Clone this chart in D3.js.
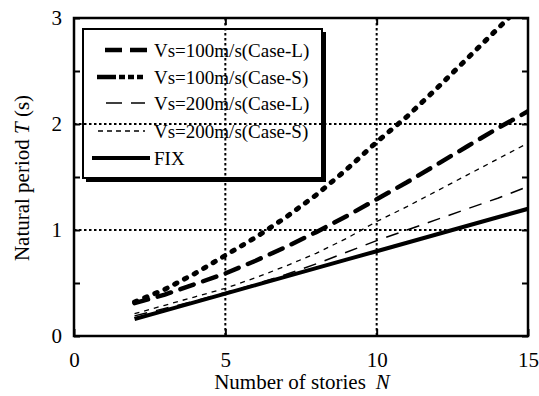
<!DOCTYPE html>
<html>
<head>
<meta charset="utf-8">
<script src="https://cdn.jsdelivr.net/npm/d3@7"></script>
<style>
  body { margin: 0; background: #fff; }
  svg { display: block; }
</style>
</head>
<body>
<div id="chart"></div>
<script>
// stories and natural periods
let stories = [2, 3, 4, 5, 6, 7, 8, 9, 10, 11, 12, 13, 14, 15];
let vs100L = [0.31, 0.39, 0.49, 0.59, 0.71, 0.84, 0.98, 1.13, 1.29, 1.45, 1.62, 1.79, 1.96, 2.12];
let vs100S = [0.32, 0.44, 0.59, 0.76, 0.93, 1.12, 1.33, 1.57, 1.83, 2.07, 2.34, 2.62, 2.90, 3.18];
let vs200L = [0.19, 0.26, 0.33, 0.41, 0.49, 0.58, 0.68, 0.79, 0.90, 1.00, 1.10, 1.20, 1.30, 1.41];
let vs200S = [0.21, 0.29, 0.37, 0.45, 0.55, 0.66, 0.78, 0.92, 1.08, 1.22, 1.37, 1.52, 1.67, 1.82];
let fixT   = [0.16, 0.24, 0.32, 0.40, 0.48, 0.56, 0.64, 0.72, 0.80, 0.88, 0.96, 1.04, 1.12, 1.20];

let seriesNames = ["Vs=100m/s(Case-L)", "Vs=100m/s(Case-S)", "Vs=200m/s(Case-L)", "Vs=200m/s(Case-S)", "FIX"];
let xTicks = [0, 5, 10, 15];
let yTicks = [0, 1, 2, 3];
let yMinor = [0.5, 1.5, 2.5];
let gridX = [5, 10];
let gridY = [1, 2];

let serif = "Liberation Serif";
let W = 539, H = 396;
let margin = {left: 74, top: 18, right: 11, bottom: 60};
let w = W - margin.left - margin.right;
let h = H - margin.top - margin.bottom;

let svg = d3.select("#chart").append("svg").attr("width", W).attr("height", H)
   .attr("font-family", serif);
let g = svg.append("g").attr("transform", "translate(" + margin.left + "," + margin.top + ")");

let x = d3.scaleLinear().domain([0, 15]).range([0, w]);
let y = d3.scaleLinear().domain([0, 3]).range([h, 0]);

svg.append("defs").append("clipPath").attr("id", "plotclip")
   .append("rect").attr("width", w).attr("height", h);

// dotted grid
g.selectAll(".gx").data(gridX).enter().append("line")
   .attr("x1", d => x(d)).attr("x2", d => x(d)).attr("y1", 0).attr("y2", h)
   .attr("stroke", "#000").attr("stroke-width", 2).attr("stroke-dasharray", "2.5,2.5");
g.selectAll(".gy").data(gridY).enter().append("line")
   .attr("x1", 0).attr("x2", w).attr("y1", d => y(d)).attr("y2", d => y(d))
   .attr("stroke", "#000").attr("stroke-width", 2).attr("stroke-dasharray", "2.5,2.5");

// axes
let fontAxis = 21;
let xAxis = g.append("g").attr("transform", "translate(0," + h + ")")
   .call(d3.axisBottom(x).tickValues(xTicks).tickSize(-7).tickSizeOuter(0).tickPadding(16));
let xTop = g.append("g")
   .call(d3.axisTop(x).tickValues(gridX).tickSize(-7).tickSizeOuter(0).tickFormat(""));
let yAxis = g.append("g")
   .call(d3.axisLeft(y).tickValues(yTicks.concat(yMinor)).tickSize(-6).tickSizeOuter(0).tickPadding(12)
         .tickFormat(d => yTicks.indexOf(d) >= 0 ? d : ""));
let yRight = g.append("g").attr("transform", "translate(" + w + ",0)")
   .call(d3.axisRight(y).tickValues(yTicks.concat(yMinor)).tickSize(-6).tickSizeOuter(0).tickFormat(""));
[xAxis, xTop, yAxis, yRight].forEach(a => {
   a.attr("font-family", serif).attr("font-size", fontAxis);
   a.select(".domain").remove();
   a.selectAll("line").attr("stroke", "#000").attr("stroke-width", 2);
   a.selectAll("text").attr("fill", "#000");
});

// curves
let line = d3.line().x((d, i) => x(stories[i])).y(d => y(d));
let styles = [
   {data: vs100L, width: 4.5, dash: "14,10", cap: "round"},
   {data: vs100S, width: 5, dash: "2.5,8.5", cap: "round"},
   {data: vs200L, width: 1.5, dash: "13,9", cap: "butt"},
   {data: vs200S, width: 1.3, dash: "5,5", cap: "butt"},
   {data: fixT, width: 4, dash: null, cap: "butt"}
];
let curves = g.append("g").attr("clip-path", "url(#plotclip)");
curves.selectAll("path").data(styles).enter().append("path")
   .attr("d", d => line(d.data))
   .attr("fill", "none")
   .attr("stroke", "#000")
   .attr("stroke-width", d => d.width)
   .attr("stroke-dasharray", d => d.dash)
   .attr("stroke-linecap", d => d.cap);

// frame
g.append("rect").attr("width", w).attr("height", h)
   .attr("fill", "none").attr("stroke", "#000").attr("stroke-width", 2.5);

// axis titles
let xTitle = svg.append("text").attr("x", 302).attr("y", 389)
   .attr("text-anchor", "middle").attr("font-family", serif).attr("font-size", fontAxis);
xTitle.append("tspan").text("Number of stories");
xTitle.append("tspan").attr("dx", 10).attr("font-style", "italic").text("N");

let yTitle = svg.append("text").attr("transform", "translate(29,178) rotate(-90)")
   .attr("text-anchor", "middle").attr("font-family", serif).attr("font-size", fontAxis);
yTitle.append("tspan").text("Natural period ");
yTitle.append("tspan").attr("font-style", "italic").text("T");
yTitle.append("tspan").text(" (s)");

// legend
let leg = svg.append("g").attr("transform", "translate(83,29)");
let lw = 239, lh = 149;
leg.append("path")
   .attr("d", "M" + (lw + 2) + ",3 V" + (lh + 2) + " H3")
   .attr("fill", "none").attr("stroke", "#000").attr("stroke-width", 4);
leg.append("rect").attr("width", lw).attr("height", lh)
   .attr("fill", "none").attr("stroke", "#000").attr("stroke-width", 2);

let legRows = [21, 48, 74, 102, 129];
let legSample = [
   {x1: 22, x2: 64, width: 4.5, dash: "17,8"},
   {x1: 14, x2: 62, width: 4.5, dash: "19,3,6,3,6,3,6,3"},
   {x1: 23, x2: 62, width: 1.5, dash: "16,9"},
   {x1: 15, x2: 62, width: 1.3, dash: "5,4"},
   {x1: 9, x2: 67, width: 4, dash: null}
];
let items = leg.selectAll(".item").data(seriesNames).enter().append("g")
   .attr("transform", (d, i) => "translate(0," + legRows[i] + ")");
items.append("line")
   .attr("x1", (d, i) => legSample[i].x1).attr("x2", (d, i) => legSample[i].x2)
   .attr("stroke", "#000")
   .attr("stroke-width", (d, i) => legSample[i].width)
   .attr("stroke-dasharray", (d, i) => legSample[i].dash);
items.append("text").attr("x", 71).attr("y", 7)
   .attr("font-family", serif).attr("font-size", 19).text(d => d);
</script>
</body>
</html>
